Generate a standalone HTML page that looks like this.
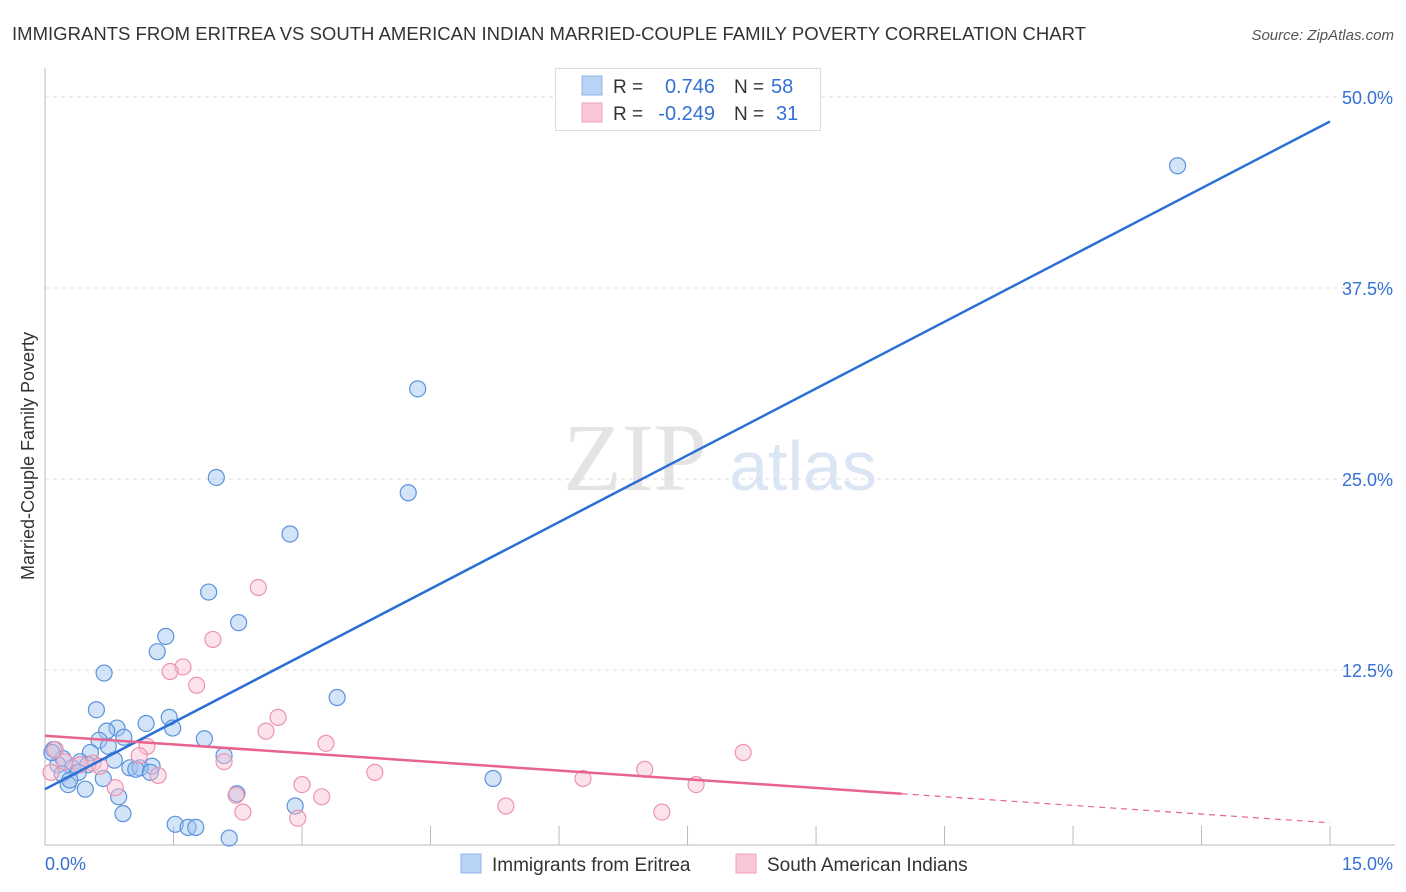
<!DOCTYPE html>
<html><head><meta charset="utf-8"><style>
body{margin:0;background:#fff;font-family:"Liberation Sans",sans-serif;}
svg{display:block}
</style></head><body>
<svg id="chart" width="1406" height="892">
<text x="12" y="40" font-size="18.5" fill="#333" textLength="1074">IMMIGRANTS FROM ERITREA VS SOUTH AMERICAN INDIAN MARRIED-COUPLE FAMILY POVERTY CORRELATION CHART</text>
<text x="1394" y="40" font-size="15" fill="#555" font-style="italic" text-anchor="end">Source: ZipAtlas.com</text>
<text x="635" y="490" font-size="96" fill="#e4e4e4" font-family="Liberation Serif,serif" text-anchor="middle">ZIP</text>
<text x="803" y="490" font-size="70" fill="#dbe6f5" text-anchor="middle">atlas</text>
<text transform="translate(34,456) rotate(-90)" font-size="18" fill="#333" text-anchor="middle">Married-Couple Family Poverty</text>
<g id="grid"></g><g id="pts"></g><g id="lines"></g>
<g>
<rect x="555.5" y="68.5" width="265" height="62" fill="#fff" stroke="#ddd"/>
<rect x="582" y="76" width="20" height="19" fill="#b8d3f5" stroke="#8fb5ea"/>
<rect x="582" y="103" width="20" height="19" fill="#f9c6d5" stroke="#f0a0b8"/>
<text x="613" y="93" font-size="19" fill="#333">R = </text><text x="715" y="93" font-size="20" fill="#3570d4" text-anchor="end">0.746</text>
<text x="734" y="93" font-size="19" fill="#333">N = </text><text x="771" y="93" font-size="20" fill="#3570d4">58</text>
<text x="613" y="120" font-size="19" fill="#333">R = </text><text x="715" y="120" font-size="20" fill="#3570d4" text-anchor="end">-0.249</text>
<text x="734" y="120" font-size="19" fill="#333">N = </text><text x="776" y="120" font-size="20" fill="#3570d4">31</text>
</g>
<g>
<rect x="461" y="854" width="20" height="19" fill="#b8d3f5" stroke="#8fb5ea"/>
<text x="492" y="871" font-size="19" fill="#333">Immigrants from Eritrea</text>
<rect x="736" y="854" width="20" height="19" fill="#f9c6d5" stroke="#f0a0b8"/>
<text x="767" y="871" font-size="19" fill="#333">South American Indians</text>
</g>
</svg>
<script>
const yTicks=[12.5,25,37.5,50];
const yTickLabels=["12.5%","25.0%","37.5%","50.0%"];
const blueX=[13.22,4.35,2.0,4.24,2.86,1.91,2.26,1.41,1.31,0.69,3.41,0.6,1.45,1.18,0.84,1.49,0.72,0.92,1.86,0.63,0.74,0.1,2.09,0.53,0.21,0.81,0.41,0.5,0.15,1.25,0.99,1.11,0.32,1.06,1.23,0.39,0.2,5.23,0.68,0.27,0.47,2.24,0.86,2.92,0.91,1.52,1.67,1.76,2.15,0.08,0.29];
const blueY=[45.5,30.9,25.1,24.1,21.4,17.6,15.6,14.7,13.7,12.3,10.7,9.9,9.4,9.0,8.7,8.7,8.5,8.1,8.0,7.9,7.5,7.3,6.9,7.1,6.7,6.6,6.5,6.3,6.3,6.2,6.1,6.1,6.1,6.0,5.8,5.8,5.7,5.4,5.4,5.0,4.7,4.4,4.2,3.6,3.1,2.4,2.2,2.2,1.5,7.1,5.3];
const pinkX=[2.49,1.96,1.61,1.46,1.77,2.72,2.58,3.28,1.19,0.12,8.15,1.1,2.09,0.23,0.56,0.64,3.85,1.32,0.07,7.0,6.28,3.0,7.6,2.23,3.23,0.82,5.38,2.31,2.95,7.2,0.41];
const pinkY=[17.9,14.5,12.7,12.4,11.5,9.4,8.5,7.7,7.5,7.3,7.1,6.9,6.5,6.5,6.4,6.2,5.8,5.6,5.8,6.0,5.4,5.0,5.0,4.3,4.2,4.8,3.6,3.2,2.8,3.2,6.3];
const blueFit=[4.7,48.4]; // y at x=0, x=15
const pinkFit=[8.2,2.5];
const xs=v=>45+v*85.67, ys=v=>861-v*15.28;
const NS="http://www.w3.org/2000/svg";
function mk(t,a,p){const e=document.createElementNS(NS,t);for(const k in a)e.setAttribute(k,a[k]);p.appendChild(e);return e;}
const g=document.getElementById('grid');
yTicks.forEach((t,i)=>{
 const l=mk('line',{x1:45,x2:1395,y1:ys(t),y2:ys(t),stroke:'#ddd','stroke-dasharray':'4,4'},g);
 
 
 const tx=mk('text',{x:1393,y:ys(t)+7,'font-size':18,fill:'#3570d4','text-anchor':'end'},g);tx.textContent=yTickLabels[i];
 
 
});
mk('line',{x1:45,x2:45,y1:68,y2:845,stroke:'#bbb'},g);
mk('line',{x1:45,x2:1395,y1:845,y2:845,stroke:'#bbb'},g);
for(let i=1;i<=10;i++){const t=mk('line',{x1:xs(i*1.5),x2:xs(i*1.5),y1:826,y2:845,stroke:'#bbb'},g);
 
 }
const x0=mk('text',{x:45,y:870,'font-size':18,fill:'#3570d4'},g);x0.textContent='0.0%';


const x1=mk('text',{x:1393,y:870,'font-size':18,fill:'#3570d4','text-anchor':'end'},g);x1.textContent='15.0%';


const p=document.getElementById('pts');
blueX.forEach((x,i)=>{const c=mk('circle',{cx:xs(x),cy:ys(blueY[i]),r:8,fill:'rgba(160,196,240,0.45)',stroke:'#5b93dc','stroke-width':1.2},p);
 
 });
pinkX.forEach((x,i)=>{const c=mk('circle',{cx:xs(x),cy:ys(pinkY[i]),r:8,fill:'rgba(248,190,208,0.45)',stroke:'#ec94b0','stroke-width':1.2},p);
 
 });
const L=document.getElementById('lines');
const bl=mk('line',{x1:xs(0),y1:ys(blueFit[0]),x2:xs(15),y2:ys(blueFit[1]),stroke:'#2a6fd6','stroke-width':2.5},L);


const pm=pinkFit[0]+(pinkFit[1]-pinkFit[0])*(10/15);
const pl=mk('line',{x1:xs(0),y1:ys(pinkFit[0]),x2:xs(10),y2:ys(pm),stroke:'#e8648f','stroke-width':2.5},L);


const pd=mk('line',{x1:xs(10),y1:ys(pm),x2:xs(15),y2:ys(pinkFit[1]),stroke:'#e8648f','stroke-width':1.2,'stroke-dasharray':'6,5'},L);


</script>
</body></html>
